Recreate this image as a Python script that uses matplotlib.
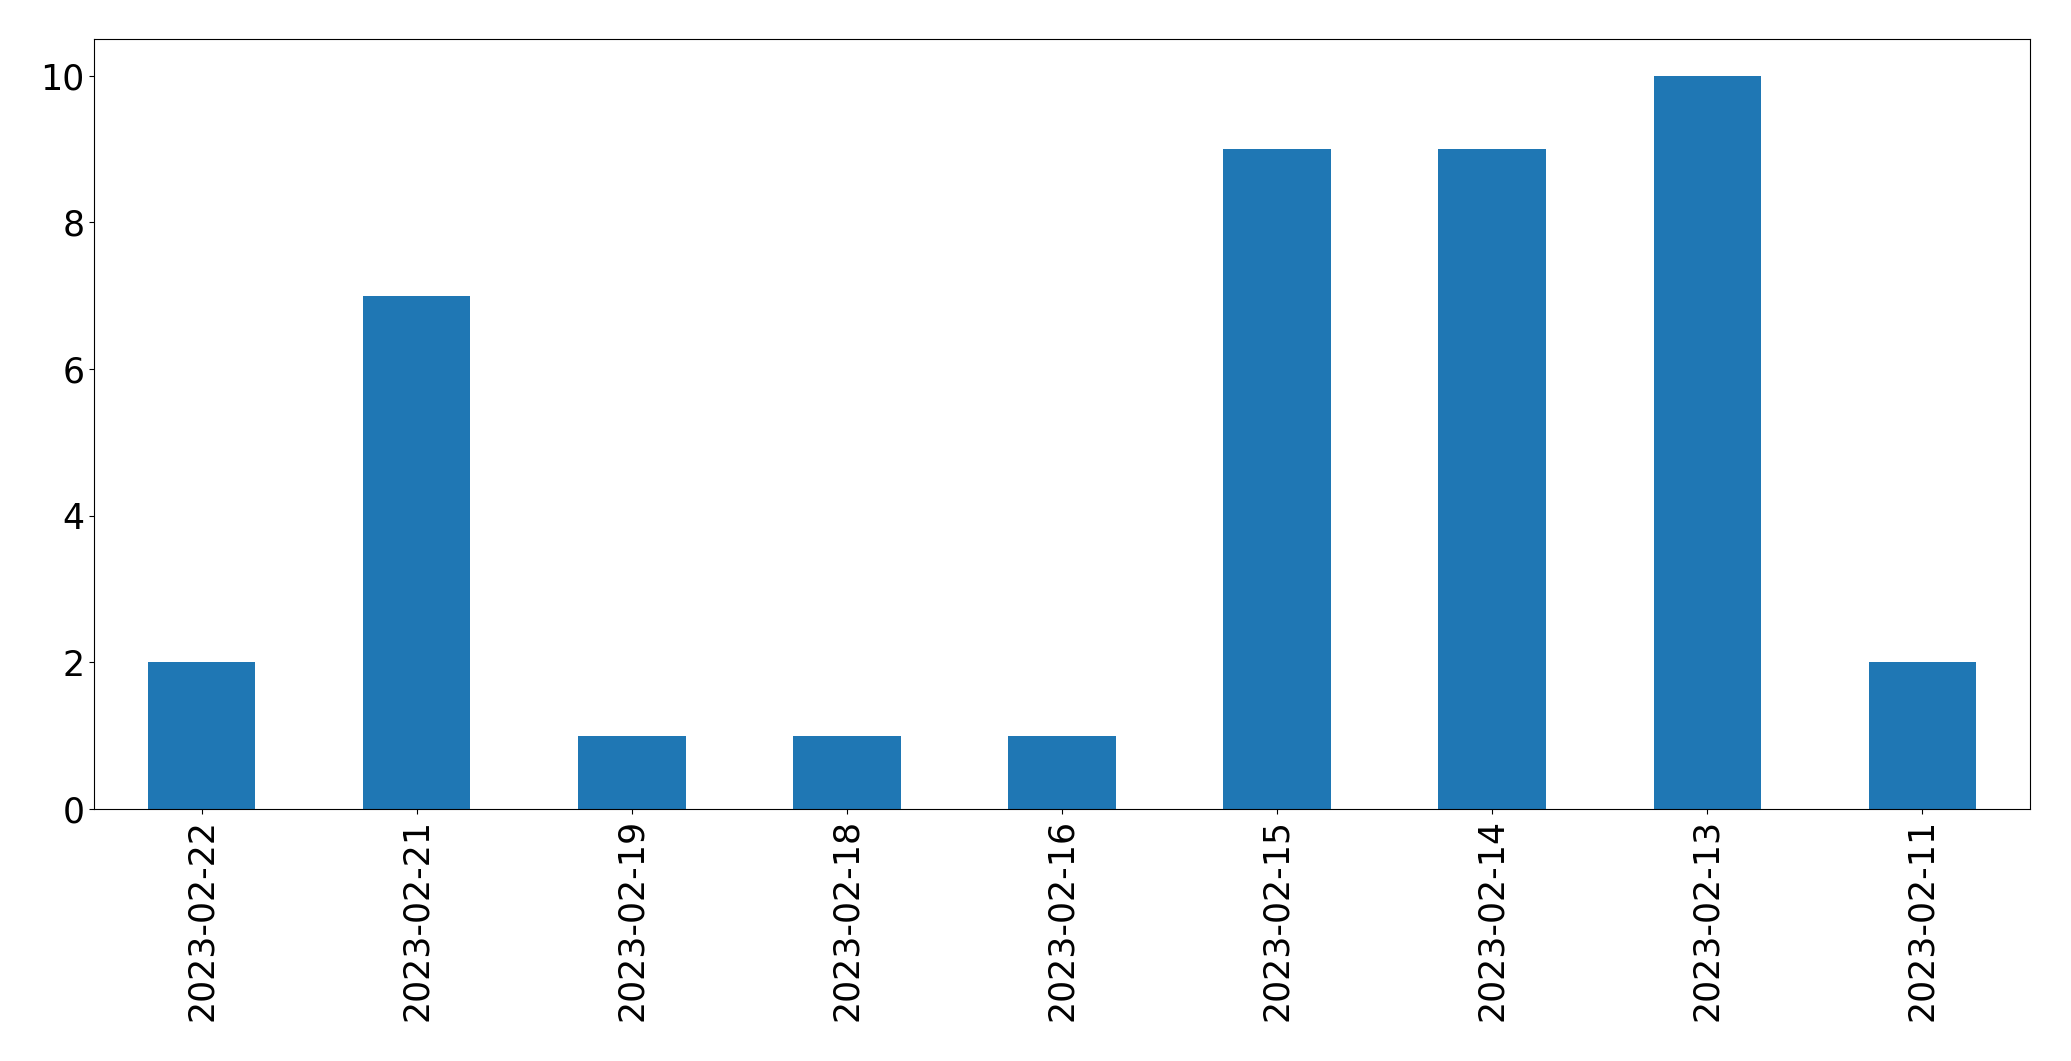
import pandas as pd
from matplotlib import pyplot as plt

dates = ['2023-02-22', '2023-02-21', '2023-02-19', '2023-02-18', '2023-02-16',
         '2023-02-15', '2023-02-14', '2023-02-13', '2023-02-11']
counts = [2, 7, 1, 1, 1, 9, 9, 10, 2]

s = pd.Series(counts, index=dates)

fig = plt.figure(figsize=(20.71, 10.61), dpi=100)
ax = fig.add_axes([94 / 2071, 1 - 809 / 1061, (2030 - 94) / 2071, (809 - 39) / 1061])
s.plot(kind='bar', ax=ax, color='#1f77b4', fontsize=25)

fig.savefig('out.png', dpi=100)
